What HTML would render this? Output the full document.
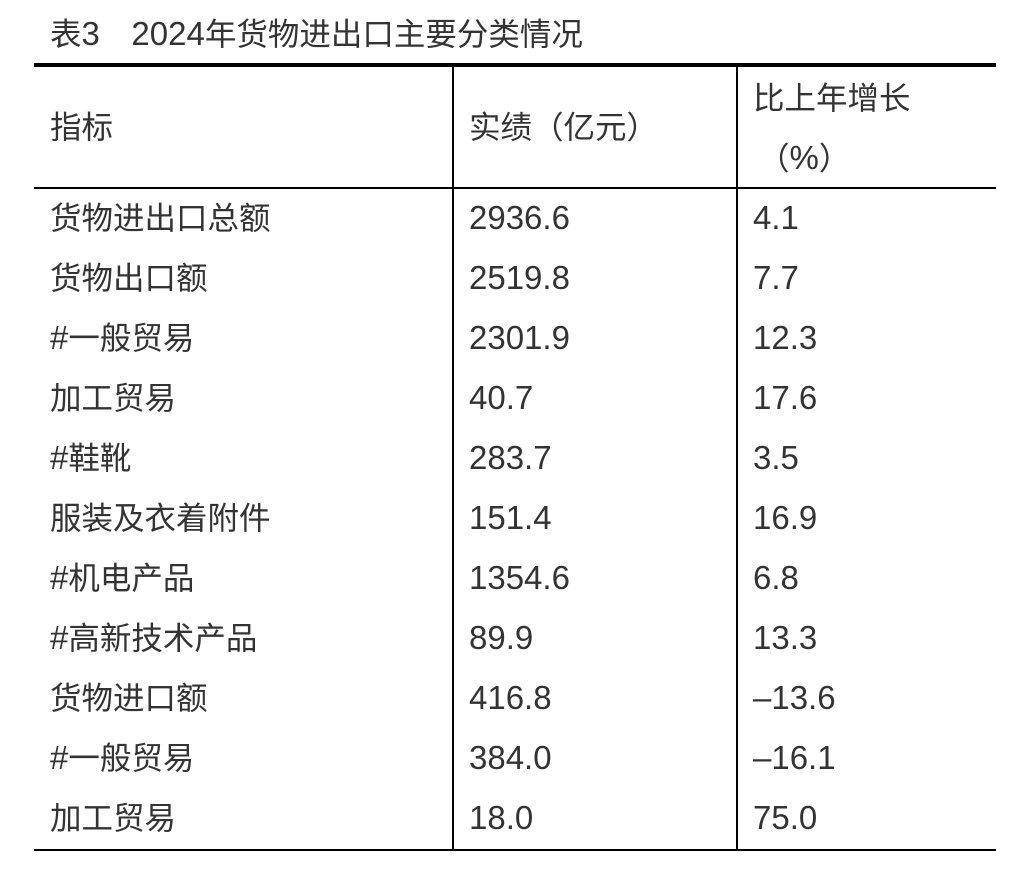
<!DOCTYPE html>
<html><head><meta charset="utf-8"><style>
body{margin:0;width:1034px;height:874px;background:#fff;position:relative;overflow:hidden;font-family:"Liberation Sans","Noto Sans CJK SC",sans-serif;color:#333;}
.t{position:absolute;font-size:31.5px;line-height:32px;white-space:nowrap;}
.n{font-size:33px;}
.l{position:absolute;background:#000;}
</style></head><body>
<div class="t" style="left:50px;top:18px;">表<span class="n">3</span>　<span class="n">2024</span>年货物进出口主要分类情况</div>
<div class="l" style="left:34px;top:63px;width:962px;height:4px;"></div>
<div class="l" style="left:34px;top:187px;width:962px;height:2px;"></div>
<div class="l" style="left:34px;top:849px;width:962px;height:2px;"></div>
<div class="l" style="left:452px;top:66px;width:2px;height:784px;"></div>
<div class="l" style="left:736px;top:66px;width:2px;height:784px;"></div>
<div class="t" style="left:50px;top:111px;">指标</div>
<div class="t" style="left:469px;top:111px;">实绩（亿元）</div>
<div class="t" style="left:753px;top:82px;">比上年增长</div>
<div class="t" style="left:758px;top:142px;">（<span class="n">%</span>）</div>
<div id="rows"></div>
<script>
var d=[["货物进出口总额","2936.6","4.1"],["货物出口额","2519.8","7.7"],["#一般贸易","2301.9","12.3"],["加工贸易","40.7","17.6"],["#鞋靴","283.7","3.5"],["服装及衣着附件","151.4","16.9"],["#机电产品","1354.6","6.8"],["#高新技术产品","89.9","13.3"],["货物进口额","416.8","–13.6"],["#一般贸易","384.0","–16.1"],["加工贸易","18.0","75.0"]];
var h="";d.forEach(function(r,i){var y=202+i*60;var a=r[0].replace('#','<span class="n">#</span>');h+='<div class="t" style="left:50px;top:'+y+'px">'+a+'</div><div class="t n" style="left:469px;top:'+y+'px">'+r[1]+'</div><div class="t n" style="left:753px;top:'+y+'px">'+r[2]+'</div>';});
document.getElementById("rows").innerHTML=h;
</script>
</body></html>
